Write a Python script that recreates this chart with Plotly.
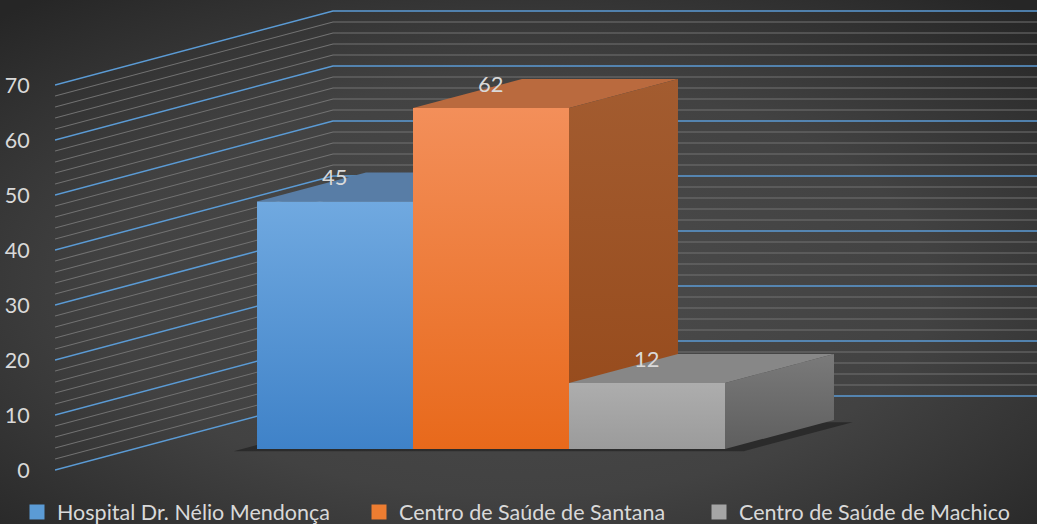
import base64
import plotly.graph_objects as go

# ---- data ----
categories = ["Hospital Dr. Nélio Mendonça", "Centro de Saúde de Santana", "Centro de Saúde de Machico"]
values = [45, 62, 12]
tick_values = [0, 10, 20, 30, 40, 50, 60, 70]
tick_labels = ["0", "10", "20", "30", "40", "50", "60", "70"]

# ---- styling / projection constants ----
W, H = 1037, 524
ML, MR, MT, MB = 55, 0, 0, 44
X_RANGE = [-1.795, 4.5]
Y_RANGE = [-5.636, 81.636]
DX, DY = 1.782, 13.455          # oblique offset for one full wall depth
D_FRONT, D_BACK = -0.284, 0.716 # wall depth range (bar front plane = 0)
BAR_D = 0.392                   # bar depth
U_LEFT = -1.289                 # left wall position
U_FAR = 6.0
V_MAX = 70
TXT = "#d9d9d9"
FONT = "Lato"
LEGEND_X_PX = [17, 359, 699]

front_cols = [("#3f82c8", "#70a9e0"), ("#e8691b", "#f38f5a"), ("#9b9b9b", "#adadad")]
top_cols = ["#587da6", "#ba6a3e", "#878787"]
side_cols = [("#3a6796", "#4d7aa8"), ("#95491a", "#a35c30"), ("#5e5e5e", "#7a7a7a")]
legend_cols = ["#5b9bd5", "#ed7d31", "#a5a5a5"]


def proj(u, v, d):
    return u + d * DX, v + d * DY


fig = go.Figure()

# gridlines on walls
minor_x, minor_y, major_x, major_y = [], [], [], []
for v in range(0, V_MAX + 1, 2):
    p1 = proj(U_LEFT, v, D_FRONT)
    p2 = proj(U_LEFT, v, D_BACK)
    p3 = (U_FAR, p2[1])
    xs, ys = [p1[0], p2[0], p3[0], None], [p1[1], p2[1], p3[1], None]
    if v % 10 == 0:
        major_x += xs; major_y += ys
    else:
        minor_x += xs; minor_y += ys
fig.add_trace(go.Scatter(x=minor_x, y=minor_y, mode="lines", line=dict(color="#727272", width=1.1),
                         hoverinfo="skip", showlegend=False))
fig.add_trace(go.Scatter(x=major_x, y=major_y, mode="lines", line=dict(color="#5b9bd5", width=1.6),
                         hoverinfo="skip", showlegend=False))

# floor shadow
n = len(values)
sh = [proj(-0.65, 0, 0), proj(n - 0.5 + 0.12, 0, 0), proj(n - 0.5 + 0.12, 0, BAR_D), proj(-0.65, 0, BAR_D)]
fig.add_trace(go.Scatter(x=[p[0] for p in sh] + [sh[0][0]], y=[p[1] - 0.4 for p in sh] + [sh[0][1] - 0.4],
                         mode="lines", fill="toself", fillcolor="rgba(0,0,0,0.35)", line=dict(width=0),
                         hoverinfo="skip", showlegend=False))


def face(pts, fillcolor=None, grad=None):
    xs = [p[0] for p in pts] + [pts[0][0]]
    ys = [p[1] for p in pts] + [pts[0][1]]
    kw = dict(x=xs, y=ys, mode="lines", fill="toself", line=dict(width=0),
              hoverinfo="skip", showlegend=False)
    if grad:
        kw["fillgradient"] = dict(type="vertical", colorscale=[[0, grad[0]], [1, grad[1]]])
    else:
        kw["fillcolor"] = fillcolor
    fig.add_trace(go.Scatter(**kw))


for i, val in enumerate(values):
    u0, u1 = i - 0.5, i + 0.5
    face([proj(u0, val, 0), proj(u1, val, 0), proj(u1, val, BAR_D), proj(u0, val, BAR_D)], fillcolor=top_cols[i])
    face([proj(u1, 0, 0), proj(u1, 0, BAR_D), proj(u1, val, BAR_D), proj(u1, val, 0)], grad=side_cols[i])
    face([proj(u0, 0, 0), proj(u1, 0, 0), proj(u1, val, 0), proj(u0, val, 0)], grad=front_cols[i])

# legend entries (one legend per entry for exact placement)
legend_names = ["legend", "legend2", "legend3"]
for name, col, lg in zip(categories, legend_cols, legend_names):
    fig.add_trace(go.Scatter(x=[None], y=[None], mode="markers", name=name, legend=lg,
                             marker=dict(symbol="square", size=15, color=col)))

# data labels
annotations = [dict(x=i, y=val, text=str(val), showarrow=False, yshift=25,
                    font=dict(family=FONT, size=22, color=TXT)) for i, val in enumerate(values)]

# background gradient
svg = (f'<svg xmlns="http://www.w3.org/2000/svg" width="{W}" height="{H}">'
       '<defs><radialGradient id="g" cx="0.5" cy="0.55" r="0.72">'
       '<stop offset="0" stop-color="#4c4c4c"/><stop offset="0.55" stop-color="#424242"/>'
       '<stop offset="1" stop-color="#262626"/></radialGradient></defs>'
       f'<rect width="{W}" height="{H}" fill="url(#g)"/></svg>')
src = "data:image/svg+xml;base64," + base64.b64encode(svg.encode()).decode()
pw, ph = W - ML - MR, H - MT - MB


def legend_cfg(xpx):
    return dict(orientation="h", xref="container", yref="container",
                x=xpx / W, xanchor="left", y=(H - 512) / H, yanchor="middle",
                bgcolor="rgba(0,0,0,0)", font=dict(family=FONT, size=21.5, color=TXT),
                itemclick=False, itemdoubleclick=False)


fig.update_layout(
    width=W, height=H,
    margin=dict(l=ML, r=MR, t=MT, b=MB, autoexpand=False),
    paper_bgcolor="#363636", plot_bgcolor="rgba(0,0,0,0)",
    font=dict(family=FONT, color=TXT, size=20),
    images=[dict(source=src, xref="paper", yref="paper", x=-ML / pw, y=1 + MT / ph,
                 sizex=W / pw, sizey=H / ph, xanchor="left", yanchor="top",
                 sizing="stretch", layer="below")],
    xaxis=dict(range=X_RANGE, visible=False, fixedrange=True),
    yaxis=dict(range=Y_RANGE, showgrid=False, zeroline=False, showline=False,
               tickvals=[t + D_FRONT * DY for t in tick_values], ticktext=tick_labels,
               ticks="outside", ticklen=20, tickcolor="rgba(0,0,0,0)",
               tickfont=dict(family=FONT, size=21.5, color=TXT), fixedrange=True),
    showlegend=True,
    legend=legend_cfg(LEGEND_X_PX[0]),
    legend2=legend_cfg(LEGEND_X_PX[1]),
    legend3=legend_cfg(LEGEND_X_PX[2]),
    annotations=annotations,
)

fig.write_html("out.html", config={"displayModeBar": False},
               post_script="document.body.style.margin='0';document.body.style.overflow='hidden';")
